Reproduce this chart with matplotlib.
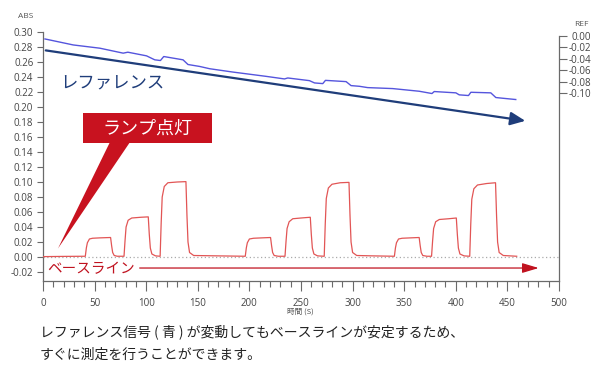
import matplotlib
matplotlib.use("Agg")
import matplotlib.pyplot as plt
from matplotlib.patches import Rectangle, Polygon
from matplotlib.ticker import MultipleLocator

JP = ['Noto Sans CJK JP', 'DejaVu Sans']
NUM = ['Open Sans', 'DejaVu Sans']

# ---- data ----
# ABS signal (red), time in s
abs_time = [0, 20, 41,
            42, 43, 45, 48, 55, 65.5,
            66.5, 67.5, 69, 72, 78.5,
            79.5, 80.5, 82.5, 86, 95, 102,
            103, 104, 105.5, 109, 113.5,
            114.5, 115.5, 117.5, 121, 130, 138.5,
            139.5, 140.5, 142, 146, 170, 196,
            197, 198, 200, 204, 212, 220.5,
            221.5, 222.5, 224, 228, 234.5,
            235.5, 236.5, 238.5, 242, 250, 259,
            260, 261, 262.5, 266, 272.5,
            273.5, 274.5, 276.5, 280, 288, 296.5,
            297.5, 298.5, 300, 304, 320, 340.5,
            341.5, 342.5, 344.5, 348, 356, 364.5,
            365.5, 366.5, 368, 372, 376.5,
            377.5, 378.5, 380.5, 384, 393, 400.5,
            401.5, 402.5, 404, 408, 413.5,
            414.5, 415.5, 417.5, 421, 430, 438.5,
            439.5, 440.5, 442, 446, 459]
abs_value = [0.0005, 0.0008, 0.001,
             0.012, 0.019, 0.024, 0.025, 0.0255, 0.026,
             0.015, 0.006, 0.002, 0.001, 0.001,
             0.022, 0.040, 0.049, 0.052, 0.053, 0.0535,
             0.030, 0.012, 0.004, 0.0015, 0.001,
             0.045, 0.080, 0.094, 0.099, 0.100, 0.1005,
             0.055, 0.020, 0.006, 0.002, 0.0015, 0.001,
             0.012, 0.019, 0.024, 0.025, 0.0255, 0.026,
             0.015, 0.006, 0.002, 0.001, 0.001,
             0.021, 0.038, 0.047, 0.051, 0.052, 0.053,
             0.030, 0.012, 0.004, 0.0015, 0.001,
             0.044, 0.078, 0.092, 0.097, 0.099, 0.0995,
             0.055, 0.020, 0.006, 0.002, 0.0015, 0.001,
             0.012, 0.019, 0.024, 0.025, 0.0255, 0.026,
             0.015, 0.006, 0.002, 0.001, 0.001,
             0.021, 0.038, 0.047, 0.050, 0.051, 0.052,
             0.030, 0.012, 0.004, 0.0015, 0.001,
             0.044, 0.077, 0.091, 0.096, 0.098, 0.099,
             0.055, 0.020, 0.006, 0.002, 0.001]

# REF signal (blue)
ref_time = [1.9, 29.3, 55.1, 77.7, 82.2, 100.3, 108.3, 113.8, 117.0, 135.7,
            140.5, 151.8, 161.5, 183.8, 216.3, 234.0, 237.2, 258.2, 263.1,
            271.1, 273.7, 293.7, 298.5, 306.6, 314.6, 338.8, 364.6, 376.9,
            379.1, 400.1, 403.3, 412.3, 414.6, 433.9, 438.8, 445.2, 458.1]
ref_value = [-0.0052, -0.0157, -0.0214, -0.0301, -0.0284, -0.0348, -0.0418,
             -0.0430, -0.0360, -0.0418, -0.0500, -0.0534, -0.0574, -0.0632,
             -0.0708, -0.0753, -0.0736, -0.0783, -0.0823, -0.0835, -0.0778,
             -0.0800, -0.0870, -0.0882, -0.0905, -0.0922, -0.0969, -0.1009,
             -0.0974, -0.0997, -0.1032, -0.1044, -0.0987, -0.0997, -0.1079,
             -0.1091, -0.1114]

abs_ticks = [0.00 + 0.02 * i for i in range(-1, 16)]
ref_ticks = [0.00, -0.02, -0.04, -0.06, -0.08, -0.10]
x_ticks = [0, 50, 100, 150, 200, 250, 300, 350, 400, 450, 500]

# ---- figure ----
fig = plt.figure(figsize=(6.1, 3.69), dpi=100)
ax = fig.add_axes([43/610, 1-281/369, (559-43)/610, (281-32)/369])
ax2 = ax.twinx()

spine_c = '#6a6a6a'
tick_c = '#444444'

ax.set_xlim(0, 499)
ax.set_ylim(-0.032, 0.30)
ax2.set_ylim(-0.4296, 0.007)

ax.plot(abs_time, abs_value, color='#e25555', lw=0.9, zorder=3)
ax.axhline(0, color='#aaaaaa', lw=0.9, ls=(0, (1, 2)), zorder=2)
ax2.plot(ref_time, ref_value, color='#5555dd', lw=1.0)

for a in (ax, ax2):
    a.spines['top'].set_visible(False)
    for s in a.spines.values():
        s.set_color(spine_c)
        s.set_linewidth(0.9)
ax.spines['right'].set_visible(False)
ax2.spines['left'].set_visible(False)
ax2.spines['bottom'].set_visible(False)
ax2.spines['right'].set_bounds(-0.4296, 0.0)

ax.set_yticks(abs_ticks)
ax.set_yticklabels([f'{v:.2f}' for v in abs_ticks])
ax.set_xticks(x_ticks)
ax.xaxis.set_minor_locator(MultipleLocator(10))
ax.tick_params(axis='y', length=4, width=0.8, color=spine_c, labelsize=7, labelcolor=tick_c, pad=3)
ax.tick_params(axis='x', which='major', length=7, width=0.8, color=spine_c, labelsize=7, labelcolor=tick_c, pad=5)
ax.tick_params(axis='x', which='minor', length=4, width=0.8, color=spine_c)
ax2.set_yticks(ref_ticks)
ax2.set_yticklabels([f'{v:.2f}' for v in ref_ticks])
ax2.tick_params(axis='y', length=6, width=0.8, color=spine_c, labelsize=7, labelcolor=tick_c, pad=17)
for lab in ax2.get_yticklabels():
    lab.set_horizontalalignment('right')
for lab in ax.get_xticklabels() + ax.get_yticklabels() + ax2.get_yticklabels():
    lab.set_fontfamily(NUM)

# axis captions
fig.text(26/610, 1-17/369, 'ABS', ha='center', va='center', fontsize=6, color='#555555', family=NUM)
fig.text(581/610, 1-24/369, 'REF', ha='center', va='center', fontsize=6, color='#555555', family=NUM)
fig.text(300/610, 1-312/369, '時間 (S)', ha='center', va='center', fontsize=5.5, color='#555555', family=JP)

# reference arrow + label
ax.annotate('', xy=(470, 0.181), xytext=(0, 0.276),
            arrowprops=dict(arrowstyle='-|>,head_length=0.9,head_width=0.4', color='#1f3d7a', lw=1.6),
            annotation_clip=False, zorder=4)
ax.text(16.4, 0.2307, 'レファレンス', fontsize=12.5, color='#1f3d7a', ha='left', va='center', family=JP)

# baseline arrow + label
ax.annotate('', xy=(483, -0.0147), xytext=(91, -0.0147),
            arrowprops=dict(arrowstyle='-|>,head_length=1.0,head_width=0.3', color='#c0121f', lw=0.9),
            annotation_clip=False, zorder=4)
ax.text(3.9, -0.016, 'ベースライン', fontsize=10.5, color='#c0121f', ha='left', va='center', family=JP)

# lamp callout
ax.add_patch(Polygon([(64.8, 0.153), (84.2, 0.153), (14.5, 0.0113)], closed=True,
                     facecolor='#c8121f', edgecolor='none', zorder=5))
ax.add_patch(Rectangle((38.7, 0.152), 124.7, 0.040, facecolor='#c8121f', edgecolor='none', zorder=5))
ax.text(101, 0.1715, 'ランプ点灯', fontsize=13, color='white', ha='center', va='center', family=JP, zorder=6)

# caption
fig.text(40/610, 1-332/369, 'レファレンス信号 ( 青 ) が変動してもベースラインが安定するため、',
         fontsize=10, color='#222222', ha='left', va='center', family=JP)
fig.text(40/610, 1-355/369, 'すぐに測定を行うことができます。',
         fontsize=10, color='#222222', ha='left', va='center', family=JP)

fig.savefig('out.png', dpi=100)
